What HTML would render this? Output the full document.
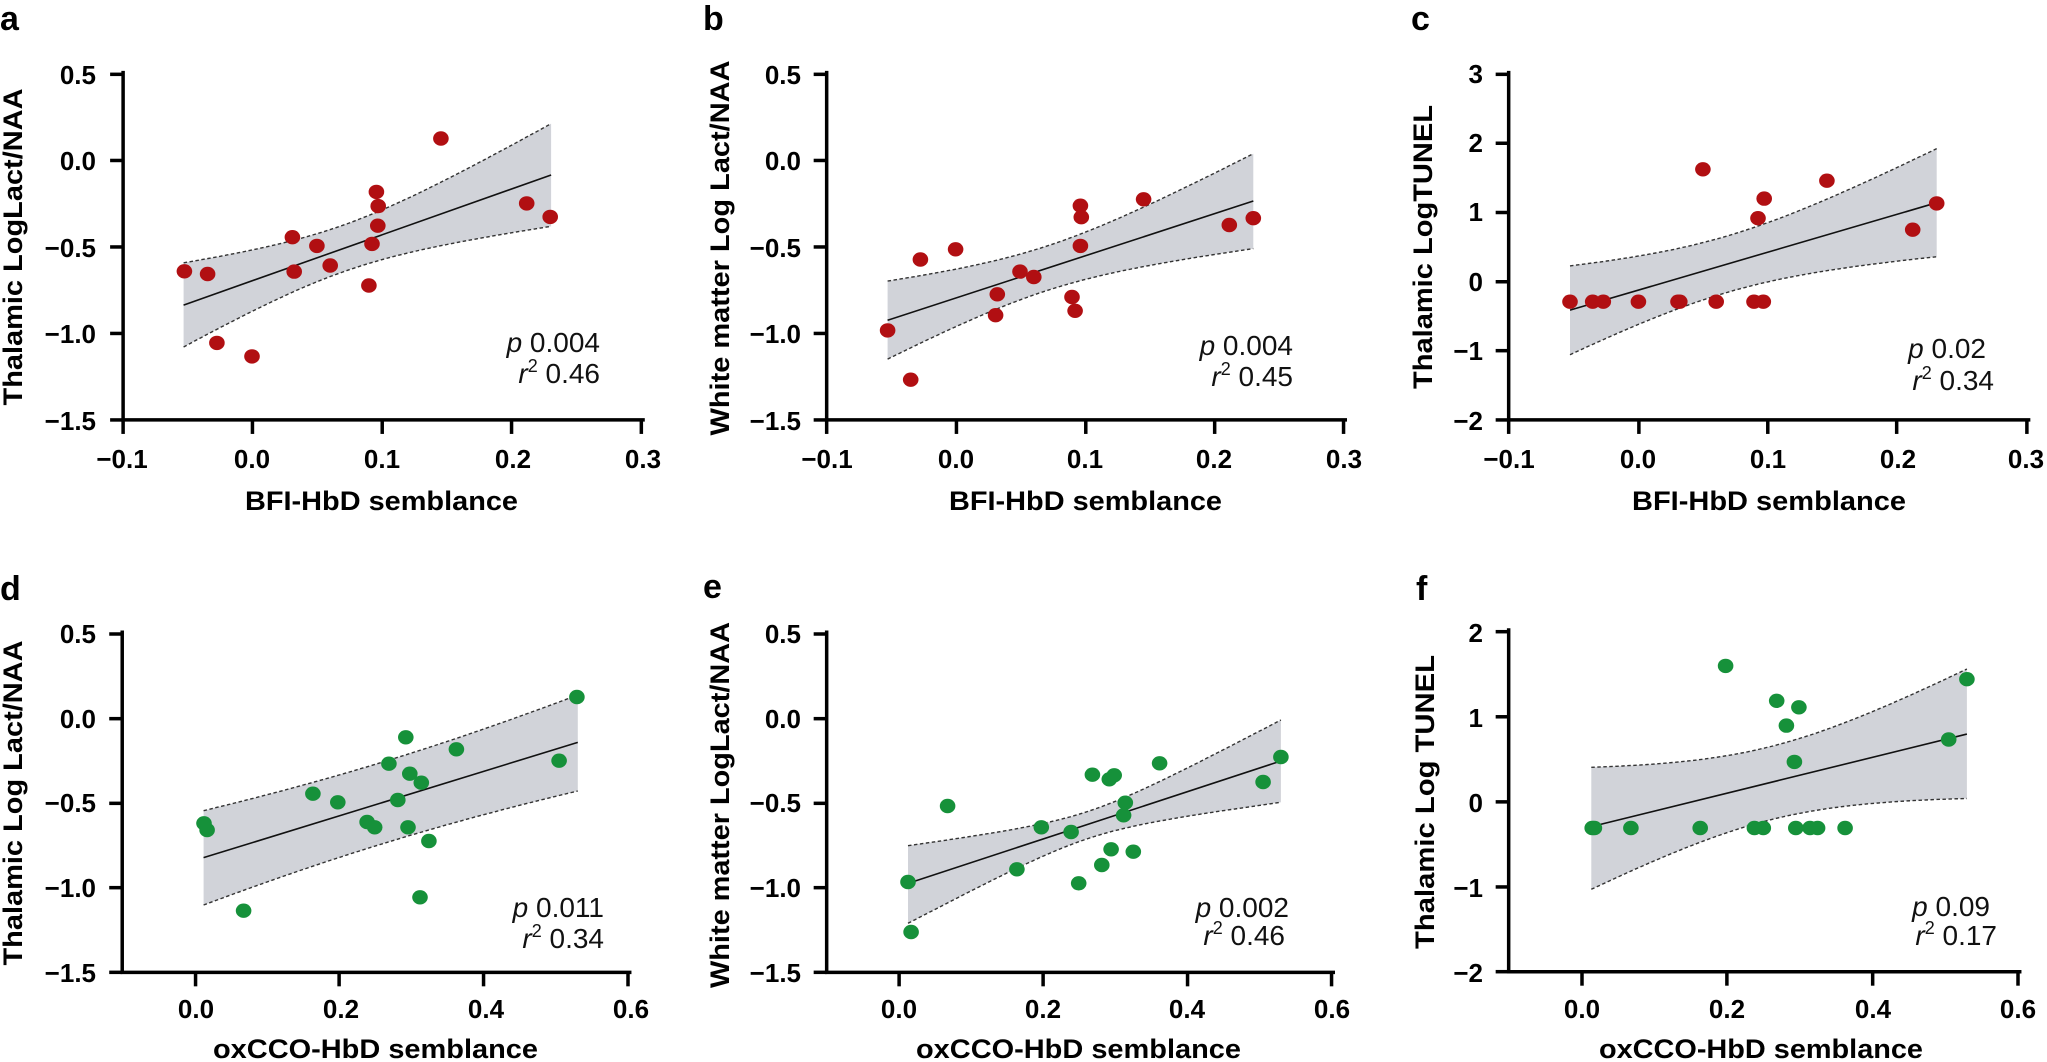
<!DOCTYPE html>
<html><head><meta charset="utf-8"><style>
html,body{margin:0;padding:0;background:#fff;}
svg{display:block;}
text{font-family:"Liberation Sans",Arial,sans-serif;}
.tk{font-size:26px;font-weight:bold;fill:#000;}
.ttl{font-size:27px;font-weight:bold;fill:#000;}
.let{font-size:34px;font-weight:bold;fill:#000;}
.pv{font-size:28px;fill:#111;}
</style></head><body>
<svg id="s" width="2047" height="1062" viewBox="0 0 2047 1062" xmlns="http://www.w3.org/2000/svg">
<g id="plots"></g>
<text class="let" x="0" y="30">a</text>
<text class="let" x="703" y="30">b</text>
<text class="let" x="1411" y="30">c</text>
<text class="let" x="0" y="600">d</text>
<text class="let" x="703" y="598">e</text>
<text class="let" x="1416" y="600">f</text>
<g class="tk" text-anchor="end">
<text x="96" y="84">0.5</text><text x="96" y="170">0.0</text><text x="96" y="257">−0.5</text><text x="96" y="343">−1.0</text><text x="96" y="430">−1.5</text>
<text x="801" y="84">0.5</text><text x="801" y="170">0.0</text><text x="801" y="257">−0.5</text><text x="801" y="343">−1.0</text><text x="801" y="430">−1.5</text>
<text x="1483" y="83">3</text><text x="1483" y="152">2</text><text x="1483" y="221">1</text><text x="1483" y="291">0</text><text x="1483" y="360">−1</text><text x="1483" y="430">−2</text>
<text x="96" y="643">0.5</text><text x="96" y="728">0.0</text><text x="96" y="812">−0.5</text><text x="96" y="897">−1.0</text><text x="96" y="982">−1.5</text>
<text x="801" y="643">0.5</text><text x="801" y="728">0.0</text><text x="801" y="812">−0.5</text><text x="801" y="897">−1.0</text><text x="801" y="982">−1.5</text>
<text x="1483" y="642">2</text><text x="1483" y="727">1</text><text x="1483" y="812">0</text><text x="1483" y="897">−1</text><text x="1483" y="982">−2</text>
</g>
<g class="tk" text-anchor="middle">
<text x="122" y="468">−0.1</text><text x="252" y="468">0.0</text><text x="382" y="468">0.1</text><text x="513" y="468">0.2</text><text x="643" y="468">0.3</text>
<text x="827" y="468">−0.1</text><text x="956" y="468">0.0</text><text x="1085" y="468">0.1</text><text x="1214" y="468">0.2</text><text x="1344" y="468">0.3</text>
<text x="1509" y="468">−0.1</text><text x="1638" y="468">0.0</text><text x="1768" y="468">0.1</text><text x="1898" y="468">0.2</text><text x="2026" y="468">0.3</text>
<text x="196" y="1018">0.0</text><text x="341" y="1018">0.2</text><text x="486" y="1018">0.4</text><text x="631" y="1018">0.6</text>
<text x="899" y="1018">0.0</text><text x="1043" y="1018">0.2</text><text x="1187" y="1018">0.4</text><text x="1332" y="1018">0.6</text>
<text x="1582" y="1018">0.0</text><text x="1727" y="1018">0.2</text><text x="1873" y="1018">0.4</text><text x="2018" y="1018">0.6</text>
</g>
<g class="ttl">
<text x="245" y="510" textLength="273" lengthAdjust="spacingAndGlyphs">BFI-HbD semblance</text>
<text x="949" y="510" textLength="273" lengthAdjust="spacingAndGlyphs">BFI-HbD semblance</text>
<text x="1632" y="510" textLength="274" lengthAdjust="spacingAndGlyphs">BFI-HbD semblance</text>
<text x="213" y="1058" textLength="325" lengthAdjust="spacingAndGlyphs">oxCCO-HbD semblance</text>
<text x="916" y="1058" textLength="325" lengthAdjust="spacingAndGlyphs">oxCCO-HbD semblance</text>
<text x="1599" y="1058" textLength="324" lengthAdjust="spacingAndGlyphs">oxCCO-HbD semblance</text>
</g>
<g class="ttl" text-anchor="middle">
<text transform="translate(22,247) rotate(-90)" textLength="317" lengthAdjust="spacingAndGlyphs">Thalamic LogLact/NAA</text>
<text transform="translate(729,248) rotate(-90)" textLength="375" lengthAdjust="spacingAndGlyphs">White matter Log Lact/NAA</text>
<text transform="translate(1432,247) rotate(-90)" textLength="284" lengthAdjust="spacingAndGlyphs">Thalamic LogTUNEL</text>
<text transform="translate(22,803) rotate(-90)" textLength="325" lengthAdjust="spacingAndGlyphs">Thalamic Log Lact/NAA</text>
<text transform="translate(729,805) rotate(-90)" textLength="366" lengthAdjust="spacingAndGlyphs">White matter LogLact/NAA</text>
<text transform="translate(1434,802) rotate(-90)" textLength="294" lengthAdjust="spacingAndGlyphs">Thalamic Log TUNEL</text>
</g>
<g class="pv" text-anchor="end">
<text x="600" y="352"><tspan font-style="italic">p</tspan> 0.004</text>
<text x="600" y="383"><tspan font-style="italic">r</tspan><tspan font-size="18" dy="-11">2</tspan><tspan dy="11"> 0.46</tspan></text>
<text x="1293" y="355"><tspan font-style="italic">p</tspan> 0.004</text>
<text x="1293" y="386"><tspan font-style="italic">r</tspan><tspan font-size="18" dy="-11">2</tspan><tspan dy="11"> 0.45</tspan></text>
<text x="1986" y="358"><tspan font-style="italic">p</tspan> 0.02</text>
<text x="1994" y="390"><tspan font-style="italic">r</tspan><tspan font-size="18" dy="-11">2</tspan><tspan dy="11"> 0.34</tspan></text>
<text x="604" y="917"><tspan font-style="italic">p</tspan> 0.011</text>
<text x="604" y="948"><tspan font-style="italic">r</tspan><tspan font-size="18" dy="-11">2</tspan><tspan dy="11"> 0.34</tspan></text>
<text x="1289" y="917"><tspan font-style="italic">p</tspan> 0.002</text>
<text x="1285" y="945"><tspan font-style="italic">r</tspan><tspan font-size="18" dy="-11">2</tspan><tspan dy="11"> 0.46</tspan></text>
<text x="1990" y="916"><tspan font-style="italic">p</tspan> 0.09</text>
<text x="1997" y="945"><tspan font-style="italic">r</tspan><tspan font-size="18" dy="-11">2</tspan><tspan dy="11"> 0.17</tspan></text>
</g>
</svg>
<script>
(function(){
var NS="http://www.w3.org/2000/svg",G=document.getElementById("plots");
function el(n,a){var e=document.createElementNS(NS,n);for(var k in a)e.setAttribute(k,a[k]);G.appendChild(e);return e;}
var RED="#b10f12",GRN="#16913a";
var P=[
{cx:0,cy:0,sx:2.25,sy:2.96,ax:277,ay:1243,yt:[220,475,731,987,1243],xt:[277,568,860,1151,1443],
 line:[413,903,1240,518],uL:778,uR:366,lL:1027,lR:670,c:RED,
 pts:[[415,803],[467,811],[488,1015],[567,1055],[658,702],[662,804],[713,728],[743,786],[830,845],[837,722],[847,568],[851,610],[850,668],[992,410],[1185,602],[1238,642]]},
{cx:680,cy:0,sx:2.25,sy:2.96,ax:330,ay:1243,yt:[220,475,731,987,1243],xt:[330,622,913,1203,1493],
 line:[467,948,1290,595],uL:832,uR:455,lL:1063,lR:736,c:RED,
 pts:[[467,978],[519,1124],[541,768],[620,738],[710,933],[714,871],[765,804],[796,820],[882,879],[889,920],[901,609],[903,643],[901,728],[1043,590],[1236,666],[1290,646]]},
{cx:1350,cy:0,sx:2.25,sy:2.96,ax:357,ay:1243,yt:[220,424,629,834,1038,1243],xt:[357,650,940,1230,1523],
 line:[495,918,1320,600],uL:787,uR:440,lL:1050,lR:760,c:RED,
 pts:[[495,893],[546,893],[570,893],[649,893],[738,893],[742,893],[824,893],[909,893],[930,893],[794,501],[918,646],[932,588],[1073,535],[1266,680],[1320,602]]},
{cx:0,cy:560,sx:2.25,sy:3.0,ax:275,ay:1237,yt:[222,476,730,983,1237],xt:[440,763,1088,1413],
 line:[458,893,1300,547],uL:752,uR:405,lL:1035,lR:693,c:GRN,
 pts:[[459,790],[466,810],[548,1052],[704,701],[760,727],[826,786],[843,802],[875,611],[895,720],[913,532],[918,802],[922,641],[948,668],[945,1012],[965,843],[1027,568],[1258,602],[1298,411]]},
{cx:680,cy:560,sx:2.25,sy:3.0,ax:330,ay:1237,yt:[222,476,730,983,1237],xt:[493,817,1142,1466],
 line:[513,970,1352,603],uL:857,uR:480,lL:1090,lR:727,c:GRN,
 pts:[[513,966],[520,1116],[602,738],[758,928],[813,802],[880,816],[897,970],[928,644],[949,915],[966,658],[977,646],[970,868],[1002,728],[998,766],[1020,875],[1079,610],[1312,666],[1352,591]]},
{cx:1350,cy:530,sx:2.25,sy:2.95,ax:357,ay:1303,yt:[300,551,802,1053,1303],xt:[522,848,1176,1503],
 line:[543,875,1388,602],uL:700,uR:410,lL:1060,lR:792,c:GRN,
 pts:[[545,879],[550,879],[632,879],[788,879],[845,401],[910,879],[930,879],[960,504],[982,577],[1000,684],[1003,879],[1010,523],[1035,879],[1052,879],[1114,879],[1347,618],[1388,440]]}
];
P.forEach(function(p){
 function X(z){return p.cx+z/p.sx;} function Y(z){return p.cy+z/p.sy;}
 var L=p.line,xl=L[0],xr=L[2];
 function ly(x){return L[1]+(L[3]-L[1])*(x-xl)/(xr-xl);}
 var wl=(p.lL-p.uL)/2,wr=(p.lR-p.uR)/2,ol=(p.lL+p.uL)/2-L[1],or=(p.lR+p.uR)/2-L[3];
 var xm=0;p.pts.forEach(function(q){xm+=q[0];});xm/=p.pts.length;
 var d1=(xl-xm)*(xl-xm),d2=(xr-xm)*(xr-xm);
 var k2=Math.abs(d1-d2)<1?0:(wl*wl-wr*wr)/(d1-d2);if(k2<0)k2=0;
 var w02=wl*wl-k2*d1;if(w02<25)w02=25;
 function w(x){var t=(x-xl)/(xr-xl);var base=Math.sqrt(w02+k2*(x-xm)*(x-xm));
   var a=wl-Math.sqrt(w02+k2*d1),b=wr-Math.sqrt(w02+k2*d2);return base+a+(b-a)*t;}
 function off(x){var t=(x-xl)/(xr-xl);return ol+(or-ol)*t;}
 var N=60,up=[],lo=[];
 for(var i=0;i<=N;i++){var x=xl+(xr-xl)*i/N,c=ly(x)+off(x),ww=w(x);
   up.push([X(x),Y(c-ww)]);lo.push([X(x),Y(c+ww)]);}
 function pl(a){return a.map(function(q){return q[0].toFixed(1)+","+q[1].toFixed(1);}).join(" ");}
 el("polygon",{points:pl(up)+" "+pl(lo.slice().reverse()),fill:"#d1d3d9",stroke:"none"});
 el("polyline",{points:pl(up),fill:"none",stroke:"#333","stroke-width":1.4,"stroke-dasharray":"3.5,2.5"});
 el("polyline",{points:pl(lo),fill:"none",stroke:"#333","stroke-width":1.4,"stroke-dasharray":"3.5,2.5"});
 el("line",{x1:X(xl),y1:Y(L[1]),x2:X(xr),y2:Y(L[3]),stroke:"#111","stroke-width":1.6});
 p.pts.forEach(function(q){el("ellipse",{cx:X(q[0]).toFixed(1),cy:Y(q[1]).toFixed(1),rx:7.8,ry:7.2,fill:p.c});});
 var ax=X(p.ax),ay=Y(p.ay),top=Y(p.yt[0]),right=X(p.xt[p.xt.length-1]);
 el("path",{d:"M"+ax+","+(top-1.7)+"V"+ay+"H"+(right+1.7),fill:"none",stroke:"#000","stroke-width":3.5,"stroke-linejoin":"miter","stroke-linecap":"square"});
 p.yt.forEach(function(t){var y=Y(t);el("line",{x1:ax-13,y1:y,x2:ax,y2:y,stroke:"#000","stroke-width":3.5});});
 p.xt.forEach(function(t){var x=X(t);el("line",{x1:x,y1:ay,x2:x,y2:ay+14,stroke:"#000","stroke-width":3.5});});
});
})();
</script>
</body></html>
